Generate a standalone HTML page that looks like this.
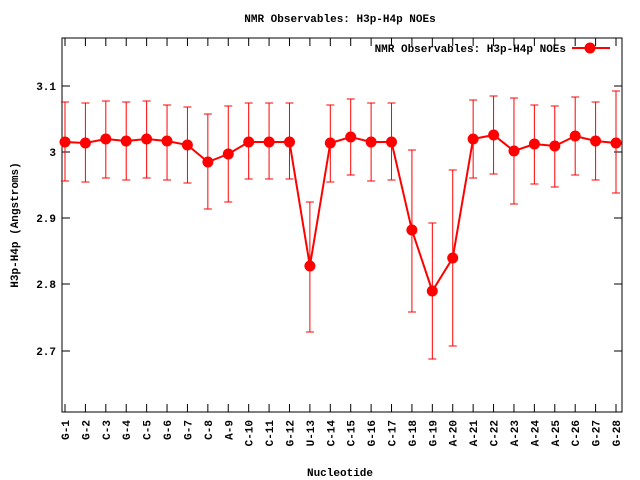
<!DOCTYPE html>
<html><head><meta charset="utf-8"><style>body{margin:0;background:#fff}svg{display:block}text{font-family:"Liberation Mono",monospace;font-size:11px;font-weight:bold;fill:#000}</style></head>
<body>
<svg id="s" width="640" height="480" xmlns="http://www.w3.org/2000/svg">
<rect x="0" y="0" width="640" height="480" fill="#fff"/>
<text x="340" y="22" text-anchor="middle">NMR Observables: H3p-H4p NOEs</text>
<text x="340" y="476" text-anchor="middle">Nucleotide</text>
<text transform="translate(18,225) rotate(-90)" text-anchor="middle">H3p-H4p (Angstroms)</text>
<g id="g"></g>
</svg>
<script>
var g=document.getElementById('g'),h='';
var L=62,R=622,T=38,B=412;
h+='<rect x="'+L+'" y="'+T+'" width="'+(R-L)+'" height="'+(B-T)+'" fill="none" stroke="#000" stroke-width="1"/>';
var yt=[[86,'3.1'],[152,'3'],[218,'2.9'],[284,'2.8'],[351,'2.7']];
yt.forEach(function(t){h+='<line x1="'+L+'" y1="'+t[0]+'" x2="'+(L+8)+'" y2="'+t[0]+'" stroke="#000"/><line x1="'+R+'" y1="'+t[0]+'" x2="'+(R-8)+'" y2="'+t[0]+'" stroke="#000"/><text x="'+(L-6)+'" y="'+(t[0]+4)+'" text-anchor="end">'+t[1]+'</text>';});
var names=['G-1','G-2','C-3','G-4','C-5','G-6','G-7','C-8','A-9','C-10','C-11','G-12','U-13','C-14','C-15','G-16','C-17','G-18','G-19','A-20','A-21','C-22','A-23','A-24','A-25','C-26','G-27','G-28'];
var py=[142,143,139,141,139,141,145,162,154,142,142,142,266,143,137,142,142,230,291,258,139,135,151,144,146,136,141,143];
var et=[102,103,101,102,101,105,107,114,106,103,103,103,202,105,99,103,103,150,223,170,100,96,98,105,106,97,102,91];
var eb=[181,182,178,180,178,180,183,209,202,179,179,179,332,182,175,181,180,312,359,346,178,174,204,184,187,175,180,193];
var pts=[];
for(var i=0;i<28;i++){var x=65+i*(551/27);pts.push(x.toFixed(1)+','+py[i]);
h+='<line x1="'+x+'" y1="'+B+'" x2="'+x+'" y2="'+(B-8)+'" stroke="#000"/><line x1="'+x+'" y1="'+T+'" x2="'+x+'" y2="'+(T+8)+'" stroke="#000"/>';
h+='<text transform="translate('+(x+4)+',420) rotate(-90)" text-anchor="end">'+names[i]+'</text>';
h+='<line x1="'+x+'" y1="'+et[i]+'" x2="'+x+'" y2="'+eb[i]+'" stroke="#f00"/><line x1="'+(x-4)+'" y1="'+et[i]+'" x2="'+(x+4)+'" y2="'+et[i]+'" stroke="#f00"/><line x1="'+(x-4)+'" y1="'+eb[i]+'" x2="'+(x+4)+'" y2="'+eb[i]+'" stroke="#f00"/>';}
h+='<polyline points="'+pts.join(' ')+'" fill="none" stroke="#f00" stroke-width="2"/>';
pts.forEach(function(p){var a=p.split(',');h+='<circle cx="'+a[0]+'" cy="'+a[1]+'" r="5.5" fill="#f00"/>';});
h+='<text x="566" y="52" text-anchor="end">NMR Observables: H3p-H4p NOEs</text><line x1="572" y1="48" x2="610" y2="48" stroke="#f00" stroke-width="2"/><circle cx="590" cy="48" r="5.5" fill="#f00"/>';
g.innerHTML=h;
</script>
</body></html>
